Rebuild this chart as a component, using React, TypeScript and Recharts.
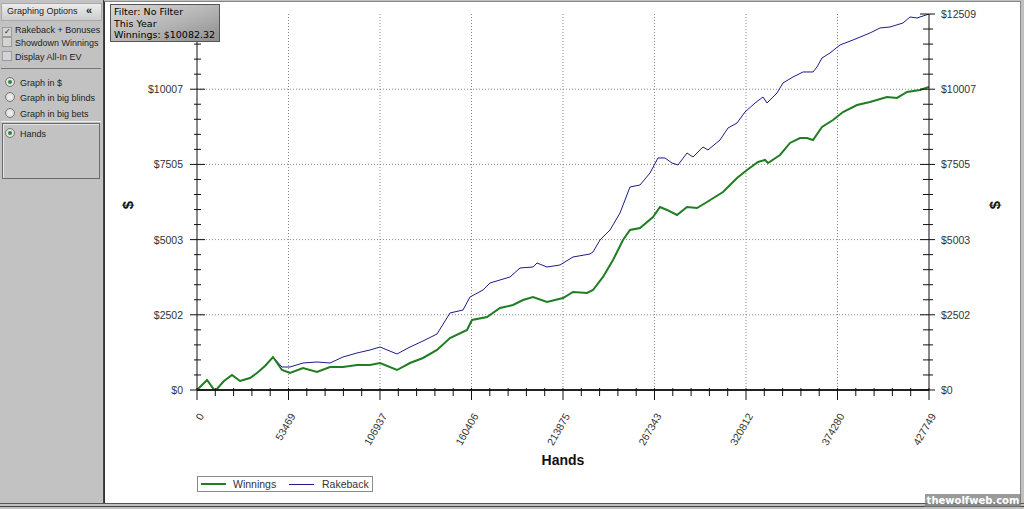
import React from 'react'
import { Line, LineChart, ReferenceLine, XAxis, YAxis } from 'recharts'

// hands played (x) and cumulative $ (y)
const winningsHands = [
  0, 5844, 10519, 15778, 20453, 25128, 30972, 35062, 39738, 44411, 49671, 54345, 61942, 70123,
  77720, 85317, 93498, 101094, 106938, 116872, 124469, 132066, 140246, 147843, 157777, 160699,
  169464, 177061, 184658, 190501, 196345, 204526, 213876, 219719, 227900, 231407, 237250, 243094,
  248937, 253028, 258871, 266468, 270559, 274649, 280493, 286336, 292180, 298024, 307374, 315554,
  321398, 327826, 331916, 333669, 340682, 346525, 352369, 356459, 359966, 365225, 371653, 377497,
  385678, 393274, 403208, 409052, 414896, 422493, 427749,
]
const winningsValues = [
  0, 333, -33, 299, 499, 299, 399, 566, 798, 1098, 665, 566, 732, 599, 765, 765, 832, 832, 898, 665,
  898, 1065, 1331, 1730, 1996, 2329, 2429, 2728, 2828, 2994, 3094, 2928, 3061, 3260, 3227, 3327,
  3760, 4325, 4991, 5323, 5390, 5756, 6088, 5989, 5822, 6088, 6055, 6255, 6587, 7053, 7319, 7586,
  7652, 7552, 7818, 8218, 8384, 8384, 8318, 8750, 8983, 9249, 9482, 9582, 9748, 9715, 9914, 9981,
  10082,
]
const rakebackHands = [
  0, 5844, 10519, 15778, 20453, 25128, 30972, 35062, 39738, 44411, 49671, 54345, 61942, 70123,
  77720, 85317, 93498, 101094, 106938, 116872, 124469, 132066, 140246, 147843, 155440, 159530,
  167127, 171218, 182905, 188749, 196345, 198683, 204526, 212123, 219719, 229654, 231407, 235497,
  241341, 247184, 253028, 258871, 264715, 269390, 273480, 277571, 281077, 286336, 289842, 295686,
  298608, 305620, 310295, 315554, 320229, 326073, 330748, 333085, 338929, 342435, 348279, 354122,
  359966, 362303, 365225, 369900, 375743, 383340, 393274, 399118, 404962, 412559, 416649, 420739,
  427749,
]
const rakebackValues = [
  0, 333, -33, 299, 499, 299, 399, 566, 798, 1098, 765, 765, 898, 932, 898, 1098, 1231, 1331, 1431,
  1198, 1431, 1630, 1863, 2562, 2662, 3094, 3327, 3560, 3760, 4059, 4092, 4225, 4092, 4159, 4425,
  4525, 4591, 4991, 5323, 5889, 6754, 6820, 7220, 7719, 7719, 7552, 7486, 7885, 7752, 8085, 7985,
  8318, 8717, 8883, 9249, 9548, 9748, 9548, 9881, 10214, 10414, 10580, 10580, 10746, 11046, 11212,
  11478, 11645, 11877, 12044, 12077, 12210, 12410, 12376, 12509,
]

const handsTicks = [0, 53469, 106937, 160406, 213875, 267343, 320812, 374280, 427749]
const dollarTicks = [0, 2502, 5003, 7505, 10007, 12509]

const winningsData = winningsHands.map((h, i) => ({ hands: h, value: winningsValues[i] }))
const rakebackData = rakebackHands.map((h, i) => ({ hands: h, value: rakebackValues[i] }))

function withMinor(major: number[], parts: number) {
  const out: number[] = []
  for (let i = 0; i < major.length - 1; i++) {
    for (let j = 0; j < parts; j++) out.push(major[i] + ((major[i + 1] - major[i]) * j) / parts)
  }
  out.push(major[major.length - 1])
  return out
}

const xTicks = withMinor(handsTicks, 5)
const yTicks = withMinor(dollarTicks, 5)

const labelFont = { fontFamily: '"Liberation Sans", Arial, sans-serif', fontSize: 10.5, fill: '#333' }
const axisStroke = '#111'

function LeftTick({ x, y, payload }: any) {
  const major = dollarTicks.includes(payload.value)
  // top label sits under the filter box in the original, so it is left out here
  const showLabel = major && payload.value !== dollarTicks[dollarTicks.length - 1]
  return (
    <g>
      <line x1={x - (major ? 7 : 3)} x2={x + (major ? 8 : 4)} y1={y} y2={y} stroke={axisStroke} />
      {showLabel && (
        <text x={x - 14} y={y} dy={4} textAnchor="end" {...labelFont}>
          ${payload.value}
        </text>
      )}
    </g>
  )
}

function RightTick({ x, y, payload }: any) {
  const major = dollarTicks.includes(payload.value)
  return (
    <g>
      <line x1={x - (major ? 9 : 6)} x2={x + (major ? 6 : 4)} y1={y} y2={y} stroke={axisStroke} />
      {major && (
        <text x={x + 12} y={y} dy={4} textAnchor="start" {...labelFont}>
          ${payload.value}
        </text>
      )}
    </g>
  )
}

function BottomTick({ x, y, payload }: any) {
  const major = handsTicks.includes(payload.value)
  return (
    <g>
      <line x1={x} x2={x} y1={y - 2} y2={y + (major ? 10 : 6)} stroke={axisStroke} />
      {major && (
        <text
          x={x + 4}
          y={y + 24}
          dy={4}
          textAnchor="end"
          transform={`rotate(-60, ${x + 4}, ${y + 24})`}
          {...labelFont}
        >
          {payload.value}
        </text>
      )}
    </g>
  )
}

function TopTick({ x, y, payload }: any) {
  const major = handsTicks.includes(payload.value)
  return <line x1={x} x2={x} y1={y - (major ? 3 : 2)} y2={y + (major ? 4 : 3)} stroke={axisStroke} />
}

const panelFont: React.CSSProperties = {
  fontFamily: '"Liberation Sans", Arial, sans-serif',
  fontSize: 9,
  color: '#222',
  position: 'absolute',
  whiteSpace: 'nowrap',
}

function Check({ top, label, checked }: { top: number; label: string; checked?: boolean }) {
  return (
    <div style={{ ...panelFont, top, left: 2, height: 12, lineHeight: '12px' }}>
      <span
        style={{
          display: 'inline-block',
          width: 8,
          height: 8,
          background: '#d4d4d4',
          border: '1px solid #9a9a9a',
          verticalAlign: -1,
          marginRight: 3,
          fontSize: 8,
          lineHeight: '8px',
          textAlign: 'center',
        }}
      >
        {checked ? '✓' : ''}
      </span>
      {label}
    </div>
  )
}

function Radio({ top, label, on }: { top: number; label: string; on?: boolean }) {
  return (
    <div style={{ ...panelFont, top, left: 5, height: 12, lineHeight: '12px' }}>
      <span
        style={{
          display: 'inline-block',
          width: 8,
          height: 8,
          borderRadius: 5,
          background: 'radial-gradient(circle, #f4f4f4, #cfcfcf)',
          border: '1px solid #7a7a7a',
          verticalAlign: -1,
          marginRight: 5,
          position: 'relative',
        }}
      >
        {on && (
          <span
            style={{
              position: 'absolute',
              left: 2,
              top: 2,
              width: 4,
              height: 4,
              borderRadius: 2,
              background: '#2d8a3c',
            }}
          />
        )}
      </span>
      {label}
    </div>
  )
}

export default function App() {
  return (
    <div
      style={{
        position: 'fixed',
        left: 0,
        top: 0,
        width: 1024,
        height: 509,
        background: '#c0c0c0',
        overflow: 'hidden',
      }}
    >
      {/* white graph area */}
      <div
        style={{
          position: 'absolute',
          left: 104,
          top: 1,
          width: 915,
          height: 501,
          background: '#fff',
          borderLeft: '1px solid #333',
          borderTop: '1px solid #888',
          borderRight: '1px solid #888',
        }}
      />
      <div style={{ position: 'absolute', left: 0, top: 503, width: 1024, height: 1, background: '#555' }} />
      <div style={{ position: 'absolute', left: 0, top: 506, width: 1024, height: 1, background: '#444' }} />

      <div style={{ position: 'absolute', left: 0, top: 0 }}>
        <LineChart
          width={1024}
          height={509}
          data={rakebackData}
          margin={{ top: 14, left: 137, right: 35, bottom: 59 }}
        >
          <XAxis
            dataKey="hands"
            type="number"
            domain={[0, 427749]}
            allowDataOverflow
            ticks={xTicks}
            interval={0}
            height={60}
            tickSize={0}
            tickMargin={0}
            tick={BottomTick}
            axisLine={{ stroke: '#222', strokeWidth: 2 }}
          />
          <XAxis
            xAxisId="top"
            orientation="top"
            dataKey="hands"
            type="number"
            domain={[0, 427749]}
            allowDataOverflow
            ticks={xTicks}
            interval={0}
            height={0}
            tickSize={0}
            tickMargin={0}
            tick={TopTick}
            axisLine={{ stroke: axisStroke }}
          />
          <YAxis
            type="number"
            domain={[0, 12509]}
            allowDataOverflow
            ticks={yTicks}
            interval={0}
            width={60}
            tickSize={0}
            tickMargin={0}
            tick={LeftTick}
            axisLine={{ stroke: axisStroke }}
          />
          <YAxis
            yAxisId="right"
            orientation="right"
            type="number"
            domain={[0, 12509]}
            allowDataOverflow
            ticks={yTicks}
            interval={0}
            width={60}
            tickSize={0}
            tickMargin={0}
            tick={RightTick}
            axisLine={{ stroke: axisStroke }}
          />
          {handsTicks.slice(1, -1).map((v) => (
            <ReferenceLine key={'x' + v} x={v} stroke="#8a8a8a" strokeDasharray="1 2" />
          ))}
          {dollarTicks.slice(1, -1).map((v) => (
            <ReferenceLine key={'y' + v} y={v} stroke="#8a8a8a" strokeDasharray="1 2" />
          ))}
          <Line
            dataKey="value"
            type="linear"
            stroke="#1c1c8a"
            strokeWidth={1}
            dot={false}
            isAnimationActive={false}
            name="Rakeback"
          />
          <Line
            data={winningsData}
            dataKey="value"
            type="linear"
            stroke="#1f7d22"
            strokeWidth={2}
            dot={false}
            isAnimationActive={false}
            name="Winnings"
          />
        </LineChart>
      </div>

      {/* axis titles */}
      <div
        style={{
          position: 'absolute',
          left: 520,
          top: 452,
          width: 86,
          textAlign: 'center',
          font: 'bold 14px "Liberation Sans", Arial, sans-serif',
          color: '#111',
        }}
      >
        Hands
      </div>
      {[127, 994].map((x) => (
        <div
          key={x}
          style={{
            position: 'absolute',
            left: x - 8,
            top: 197,
            width: 16,
            height: 16,
            textAlign: 'center',
            lineHeight: '16px',
            transform: 'rotate(-90deg)',
            font: 'bold 15px "Liberation Sans", Arial, sans-serif',
            color: '#111',
          }}
        >
          $
        </div>
      ))}

      {/* filter box */}
      <div
        style={{
          position: 'absolute',
          left: 110,
          top: 4,
          width: 110,
          height: 38,
          background: 'linear-gradient(160deg, #d9d9d9 0%, #b4b4b4 55%, #8e8e8e 100%)',
          border: '1px solid #555',
          fontFamily: '"DejaVu Sans", Verdana, sans-serif',
          fontSize: 9.5,
          lineHeight: '11.5px',
          color: '#000',
          padding: '1px 0 0 3px',
          boxSizing: 'border-box',
          whiteSpace: 'nowrap',
          overflow: 'hidden',
        }}
      >
        <div>Filter: No Filter</div>
        <div>This Year</div>
        <div>Winnings: $10082.32</div>
      </div>

      {/* legend */}
      <div
        style={{
          position: 'absolute',
          left: 197,
          top: 476,
          width: 176,
          height: 16,
          background: '#fff',
          border: '1px solid #8a8a8a',
          boxSizing: 'border-box',
          fontFamily: '"Liberation Sans", Arial, sans-serif',
          fontSize: 10.5,
          color: '#333',
        }}
      >
        <div style={{ position: 'absolute', left: 3, top: 6, width: 25, height: 2, background: '#1f7d22' }} />
        <div style={{ position: 'absolute', left: 35, top: 1, lineHeight: '12px' }}>Winnings</div>
        <div style={{ position: 'absolute', left: 91, top: 7, width: 25, height: 1, background: '#1c1c8a' }} />
        <div style={{ position: 'absolute', left: 124, top: 1, lineHeight: '12px' }}>Rakeback</div>
      </div>

      {/* watermark */}
      <div
        style={{
          position: 'absolute',
          left: 925,
          top: 494,
          width: 96,
          height: 13,
          background: 'rgba(120,120,120,0.75)',
          color: '#fff',
          font: 'bold 10px "DejaVu Sans", Verdana, sans-serif',
          lineHeight: '13px',
          textAlign: 'center',
        }}
      >
        thewolfweb.com
      </div>

      {/* left options panel */}
      <div
        style={{
          position: 'absolute',
          left: 0,
          top: 0,
          width: 103,
          height: 503,
          background: '#c2c2c2',
          borderRight: '1px solid #444',
        }}
      >
        <div
          style={{
            position: 'absolute',
            left: 1,
            top: 3,
            width: 99,
            height: 16,
            background: 'linear-gradient(#ececec, #cdcdcd)',
            border: '1px solid #a8a8a8',
          }}
        />
        <div style={{ ...panelFont, left: 7, top: 6 }}>Graphing Options</div>
        <div style={{ ...panelFont, left: 86, top: 4, fontSize: 11, fontWeight: 'bold' }}>«</div>
        <Check top={24} label="Rakeback + Bonuses" checked />
        <Check top={37} label="Showdown Winnings" />
        <Check top={51} label="Display All-In EV" />
        <div
          style={{
            position: 'absolute',
            left: 1,
            top: 68,
            width: 100,
            height: 52,
            borderTop: '1px solid #777',
            borderBottom: '1px solid #eee',
          }}
        />
        <Radio top={77} label="Graph in $" on />
        <Radio top={92} label="Graph in big blinds" />
        <Radio top={108} label="Graph in big bets" />
        <div
          style={{
            position: 'absolute',
            left: 2,
            top: 123,
            width: 96,
            height: 54,
            border: '1px solid #6a6a6a',
            boxShadow: 'inset 1px 1px 0 #e4e4e4',
          }}
        />
        <Radio top={128} label="Hands" on />
      </div>
    </div>
  )
}
